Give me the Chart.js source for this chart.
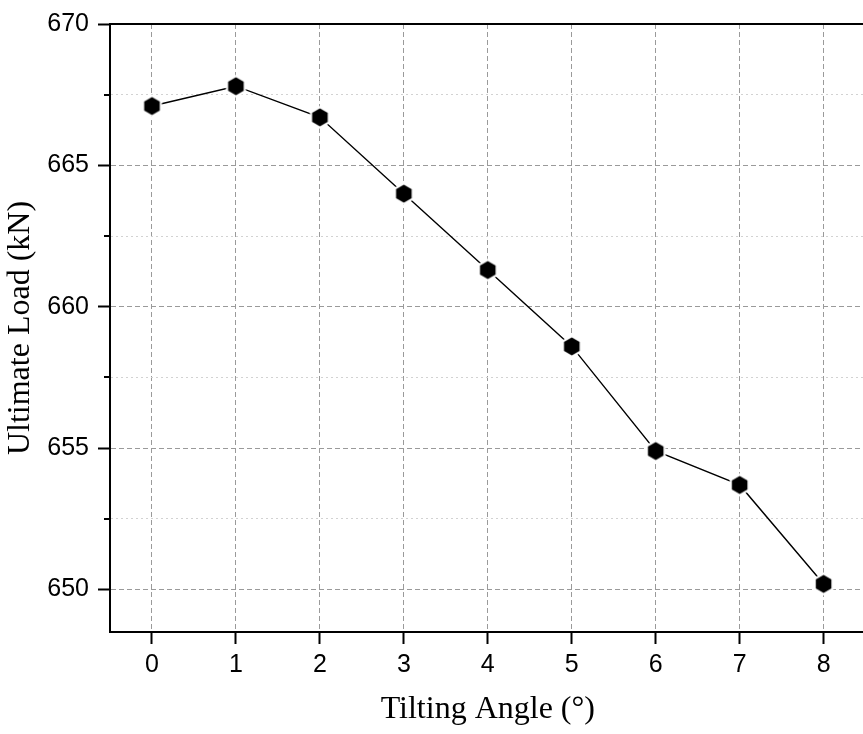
<!DOCTYPE html>
<html>
<head>
<meta charset="utf-8">
<script src="https://cdn.jsdelivr.net/npm/chart.js@4/dist/chart.umd.min.js"></script>
<style>
html, body { margin: 0; padding: 0; overflow: hidden; background: #fff; }
#wrap { width: 877px; height: 734px; }
</style>
</head>
<body>
<div id="wrap"><canvas id="c" width="877" height="734"></canvas></div>
<script>
// ---- data ----
const tiltingAngles = [0, 1, 2, 3, 4, 5, 6, 7, 8];
const ultimateLoads = [667.1, 667.8, 666.7, 664.0, 661.3, 658.6, 654.9, 653.7, 650.2];
const xTickValues = [0, 1, 2, 3, 4, 5, 6, 7, 8];
const yTickValues = [650, 652.5, 655, 657.5, 660, 662.5, 665, 667.5, 670];
const yMajorTicks = [650, 655, 660, 665, 670];
const xTitle = 'Tilting Angle (°)';
const yTitle = 'Ultimate Load (kN)';

// hexagon marker image
function hexMarker(r, border) {
  const R = r + border;
  const size = Math.ceil(R * 2 + 2);
  const cv = document.createElement('canvas');
  cv.width = size; cv.height = size;
  const g = cv.getContext('2d');
  const c = size / 2;
  function hex(rad, fill) {
    g.beginPath();
    for (let i = 0; i < 6; i++) {
      const a = -Math.PI / 2 + i * Math.PI / 3;
      const px = c + rad * Math.cos(a), py = c + rad * Math.sin(a);
      if (i === 0) g.moveTo(px, py); else g.lineTo(px, py);
    }
    g.closePath();
    g.fillStyle = fill;
    g.fill();
  }
  hex(R, '#ffffff');
  hex(r, '#000000');
  return cv;
}
const marker = hexMarker(9, 2.5);

const isMajor = v => yMajorTicks.includes(v);

const minorTicksPlugin = {
  id: 'minorTicks',
  afterDraw(chart) {
    const y = chart.scales.y;
    const ctx = chart.ctx;
    const left = chart.chartArea.left;
    ctx.save();
    ctx.strokeStyle = '#000';
    ctx.lineWidth = 2;
    yTickValues.filter(v => !isMajor(v)).forEach(v => {
      const py = Math.round(y.getPixelForValue(v));
      ctx.beginPath();
      ctx.moveTo(left - 6, py);
      ctx.lineTo(left, py);
      ctx.stroke();
    });
    ctx.restore();
  }
};

new Chart(document.getElementById('c'), {
  type: 'line',
  data: {
    datasets: [{
      data: tiltingAngles.map((x, i) => ({ x: x, y: ultimateLoads[i] })),
      borderColor: '#000',
      borderWidth: 1.4,
      pointStyle: marker,
      pointRadius: 10,
      pointHoverRadius: 10,
      tension: 0,
      fill: false
    }]
  },
  options: {
    responsive: false,
    animation: false,
    events: [],
    layout: { padding: { top: 23, left: 0, right: 5, bottom: 0 } },
    plugins: { legend: { display: false }, tooltip: { enabled: false } },
    scales: {
      x: {
        type: 'linear',
        position: 'bottom',
        min: -0.5,
        max: 8.5,
        afterBuildTicks: s => { s.ticks = xTickValues.map(v => ({ value: v })); },
        afterFit: s => { s.height = 102; },
        ticks: {
          color: '#000',
          padding: 6,
          font: { family: 'Liberation Sans, Arial, sans-serif', size: 25 },
          callback: v => String(v)
        },
        grid: {
          color: '#9a9a9a',
          lineWidth: 1,
          drawTicks: true,
          tickLength: 12,
          tickColor: '#000',
          tickWidth: 2
        },
        border: { display: true, color: '#000', width: 2, dash: ctx => ctx.tick ? [5, 3] : [] },
        title: {
          display: true,
          text: xTitle,
          color: '#000',
          font: { family: 'Liberation Serif, Times New Roman, serif', size: 32, lineHeight: 1.2 },
          padding: { top: 0, bottom: 5 }
        }
      },
      xTop: {
        type: 'linear',
        position: 'top',
        min: -0.5,
        max: 8.5,
        afterFit: s => { s.height = 0; },
        ticks: { display: false },
        grid: { display: false, drawTicks: false },
        border: { display: true, color: '#000', width: 2 }
      },
      y: {
        type: 'linear',
        position: 'left',
        min: 648.5,
        max: 670,
        afterBuildTicks: s => { s.ticks = yTickValues.map(v => ({ value: v })); },
        afterFit: s => { s.width = 110; },
        ticks: {
          color: '#000',
          padding: 9,
          font: { family: 'Liberation Sans, Arial, sans-serif', size: 25 },
          callback: v => isMajor(v) ? String(v) : ''
        },
        grid: {
          color: ctx => (ctx.tick && isMajor(ctx.tick.value)) ? '#9a9a9a' : '#d2d2d2',
          lineWidth: 1,
          drawTicks: true,
          tickLength: 12,
          tickColor: ctx => (ctx.tick && isMajor(ctx.tick.value)) ? '#000' : 'rgba(0,0,0,0)',
          tickWidth: 2
        },
        border: {
          display: true, color: '#000', width: 2,
          dash: ctx => ctx.tick ? (isMajor(ctx.tick.value) ? [5, 3] : [2, 3]) : []
        },
        title: {
          display: true,
          text: yTitle,
          color: '#000',
          font: { family: 'Liberation Serif, Times New Roman, serif', size: 32, lineHeight: 1.2 },
          padding: { top: 1, bottom: 0 }
        }
      }
    }
  },
  plugins: [minorTicksPlugin]
});
</script>
</body>
</html>
